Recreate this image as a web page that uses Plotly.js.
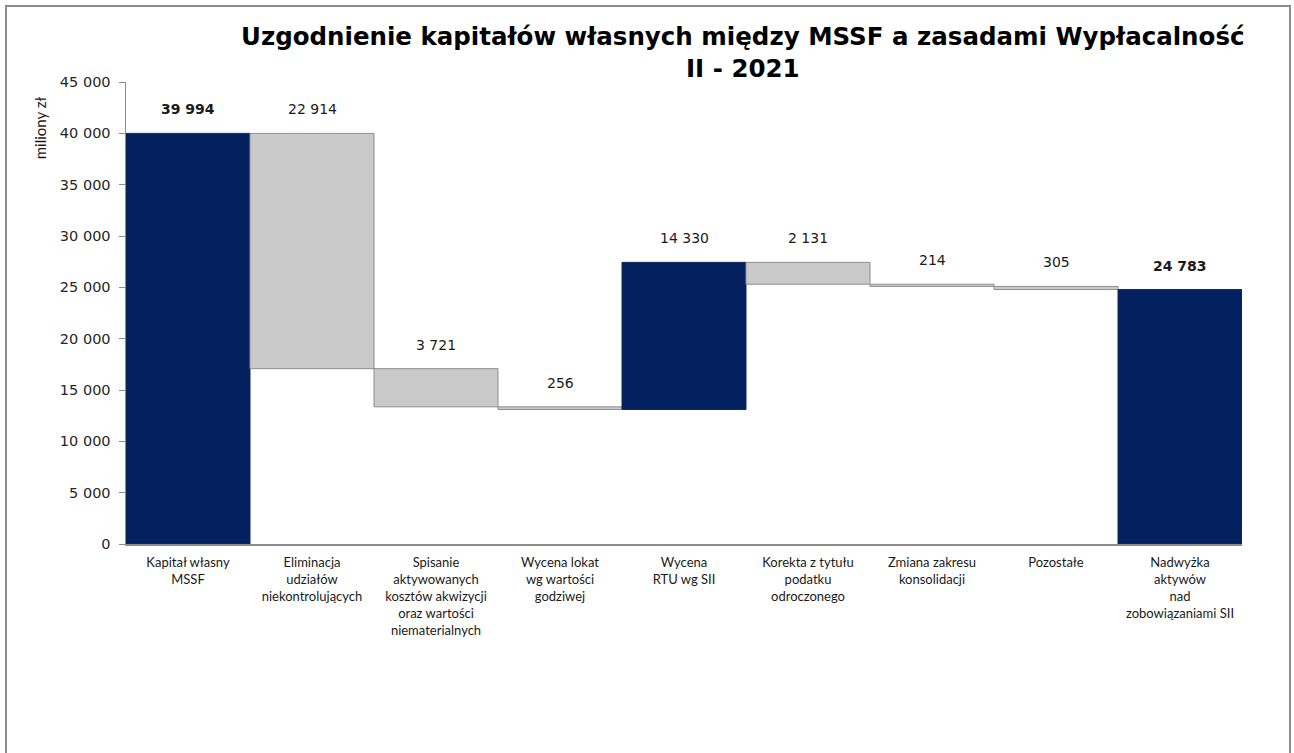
<!DOCTYPE html>
<html>
<head>
<meta charset="utf-8">
<script src="https://cdn.plot.ly/plotly-3.0.1.min.js"></script>
<style>
  html, body { margin: 0; padding: 0; background: #ffffff; }
  #chart { width: 1294px; height: 753px; }
</style>
</head>
<body>
<div id="chart"></div>
<script>
// ---- data ----
const categories = [
  "Kapitał własny<br>MSSF",
  "Eliminacja<br>udziałów<br>niekontrolujących",
  "Spisanie<br>aktywowanych<br>kosztów akwizycji<br>oraz wartości<br>niematerialnych",
  "Wycena lokat<br>wg wartości<br>godziwej",
  "Wycena<br>RTU wg SII",
  "Korekta z tytułu<br>podatku<br>odroczonego",
  "Zmiana zakresu<br>konsolidacji",
  "Pozostałe",
  "Nadwyżka<br>aktywów<br>nad<br>zobowiązaniami SII"
];
const values   = [39994, -22914, -3721, -256, 14330, -2131, -214, -305, 24783];
const measures = ["absolute", "relative", "relative", "relative", "relative", "relative", "relative", "relative", "total"];
const labelValues = [39994, 22914, 3721, 256, 14330, 2131, 214, 305, 24783];
const boldLabels  = [true, false, false, false, false, false, false, false, true];
const yTicks = [0, 5000, 10000, 15000, 20000, 25000, 30000, 35000, 40000, 45000];

// ---- styling ----
const NAVY = "#03215F";
const GRAY = "#C9C9C9";

function fmt(n) {
  return String(n).replace(/\B(?=(\d{3})+(?!\d))/g, " ");
}

// top of each bar, derived from the data
const tops = [];
let running = 0;
for (let i = 0; i < values.length; i++) {
  if (measures[i] === "absolute") { running = values[i]; tops.push(running); }
  else if (measures[i] === "total") { tops.push(running); }
  else {
    const prev = running;
    running += values[i];
    tops.push(Math.max(prev, running));
  }
}

const trace = {
  type: "waterfall",
  x: categories,
  y: values,
  measure: measures,
  textinfo: "none",
  hoverinfo: "skip",
  connector: { visible: false },
  increasing: { marker: { color: NAVY, line: { color: "#12285A", width: 1 } } },
  decreasing: { marker: { color: GRAY, line: { color: "#8F8F8F", width: 1 } } },
  totals:     { marker: { color: NAVY, line: { color: "#12285A", width: 1 } } }
};

const annotations = categories.map((c, i) => ({
  x: c, y: tops[i], xref: "x", yref: "y",
  text: boldLabels[i] ? "<b>" + fmt(labelValues[i]) + "</b>" : fmt(labelValues[i]),
  showarrow: false, yanchor: "bottom", yshift: 14,
  font: { family: "DejaVu Sans, Verdana, sans-serif", size: 14, color: "#1a1a1a" }
}));

annotations.push({
  xref: "paper", yref: "paper",
  x: -0.0770, y: 0.90,
  text: "miliony zł", textangle: -90, showarrow: false,
  xanchor: "center", yanchor: "middle",
  font: { family: "Lato, sans-serif", size: 15, color: "#1a1a1a" }
});

const layout = {
  width: 1294, height: 753,
  margin: { l: 126, r: 52, t: 82, b: 209 },
  paper_bgcolor: "#ffffff", plot_bgcolor: "#ffffff",
  separators: ", ",
  showlegend: false,
  waterfallgap: 0,
  title: {
    text: "Uzgodnienie kapitałów własnych między MSSF a zasadami Wypłacalność<br>II - 2021",
    x: 0.574, xref: "container", xanchor: "center",
    y: 0.94, yref: "container", yanchor: "top",
    font: { family: "DejaVu Sans, Verdana, sans-serif", size: 24.5, color: "#000000", weight: "bold" }
  },
  xaxis: {
    type: "category",
    showline: true, linecolor: "#8C8C8C", linewidth: 1.5,
    ticks: "", showgrid: false, zeroline: false,
    ticklabelstandoff: 6,
    tickfont: { family: "Lato, sans-serif", size: 13, color: "#1a1a1a" },
    automargin: false, fixedrange: true
  },
  yaxis: {
    range: [0, 45000],
    tickvals: yTicks,
    ticktext: yTicks.map(fmt),
    showline: true, linecolor: "#8C8C8C", linewidth: 1.5,
    ticks: "outside", ticklen: 6, tickcolor: "#8C8C8C",
    ticklabelstandoff: 5,
    showgrid: false, zeroline: false,
    tickfont: { family: "DejaVu Sans, Verdana, sans-serif", size: 14.5, color: "#262626" },
    automargin: false, fixedrange: true
  },
  annotations: annotations,
  shapes: [{
    type: "rect", xref: "paper", yref: "paper",
    x0: -0.1075, x1: 1.0430, y0: -0.47, y1: 1.1645,
    line: { color: "#8C8C8C", width: 2 }, fillcolor: "rgba(0,0,0,0)", layer: "below"
  }]
};

Plotly.newPlot("chart", [trace], layout, { displayModeBar: false, staticPlot: true });
</script>
</body>
</html>
